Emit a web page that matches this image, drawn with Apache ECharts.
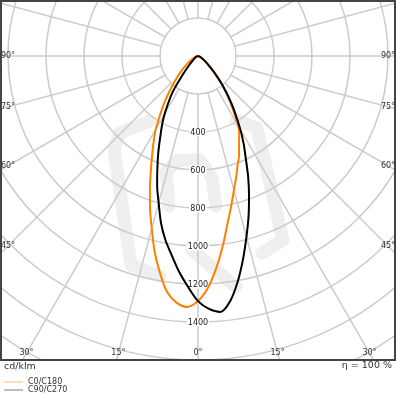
<!DOCTYPE html>
<html><head><meta charset="utf-8">
<script src="https://cdn.jsdelivr.net/npm/echarts@6/dist/echarts.min.js"></script>
<style>html,body{margin:0;padding:0;background:#fff}#c{width:396px;height:396px}</style>
</head><body><div id="c"></div>
<script>
// gamma angles (deg from nadir)
const gammaAngles = [0,2.5,5,7.5,10,12.5,15,17.5,20,22.5,25,27.5,30,35,40,45,50,55,60,65,70,75,80,85,90];
// luminous intensity, cd/klm
const c0Values   = [1290,1220,1117,1005,895,808,730,668,610,565,510,470,420,295,195,120,72,45,28,18,11,6,3,1,0];
const c180Values = [1290,1322,1303,1252,1157,1055,940,840,740,647,570,505,445,320,220,150,100,65,42,28,18,11,6,2,0];
const c90Values  = [1290,1332,1352,1300,1205,1095,985,885,785,690,595,520,445,310,200,115,65,40,24,15,9,5,2,1,0];
const c270Values = [1290,1215,1140,1058,985,900,800,715,625,545,470,410,350,235,115,60,35,22,15,10,6,4,2,1,0];
const radiusTickLabels = [400,600,800,1000,1200,1400];
const angleTickLabels = [90,75,60,45,30,15,0];
const seriesNames = ['C0/C180','C90/C270'];
const unitText = 'cd/klm';
const effText = 'η = 100 %';

function buildCurve(rightVals, leftVals){
  const pts = [];
  for (let i = gammaAngles.length - 1; i >= 0; i--) pts.push([leftVals[i], 360 - gammaAngles[i]]);
  for (let i = 1; i < gammaAngles.length; i++) pts.push([rightVals[i], gammaAngles[i]]);
  return pts;
}

const FONT = 'DejaVu Sans';
const chart = echarts.init(document.getElementById('c'), null, {renderer:'canvas'});
const gridColor = '#cbcbcb';
chart.setOption({
  animation:false,
  backgroundColor:'#ffffff',
  polar:{center:[198,56], radius:380},
  angleAxis:{type:'value', min:0, max:360, startAngle:270, clockwise:false, interval:15,
    axisLine:{show:false}, axisTick:{show:false}, axisLabel:{show:false},
    splitLine:{show:true, lineStyle:{color:gridColor, width:1.5}}},
  radiusAxis:{type:'value', min:0, max:2000, interval:200,
    axisLine:{show:false}, axisTick:{show:false},
    splitLine:{show:true, lineStyle:{color:gridColor, width:1.5}},
    axisLabel:{margin:0, align:'center', verticalAlign:'middle',
      formatter: v => radiusTickLabels.includes(v) ? '{b|' + v + '}' : '',
      rich:{b:{fontSize:8, color:'#222', fontFamily:FONT, backgroundColor:'#ffffff', padding:[1,1,0,1]}}}},
  legend:{orient:'vertical', left:4, top:378, padding:0, itemWidth:19, itemHeight:1.5, itemGap:0, icon:'rect', z:8,
    textStyle:{fontSize:8, color:'#333', fontFamily:FONT, lineHeight:8},
    data:[{name:seriesNames[0], itemStyle:{color:'#fdd3a6'}},{name:seriesNames[1], itemStyle:{color:'#a8a8a8'}}]},
  series:[
    {name:seriesNames[0], type:'line', coordinateSystem:'polar', data:buildCurve(c0Values,c180Values),
     showSymbol:false, smooth:0.3, z:4, lineStyle:{color:'#ff8000', width:2}, itemStyle:{color:'#ff8000'}},
    {name:seriesNames[1], type:'line', coordinateSystem:'polar', data:buildCurve(c90Values,c270Values),
     showSymbol:false, smooth:0.3, z:4, lineStyle:{color:'#000000', width:2}, itemStyle:{color:'#000000'}}
  ]
});

// decorations positioned from the polar coordinate system
const ctr = chart.convertToPixel({polarIndex:0}, [0,0]);
const p200 = chart.convertToPixel({polarIndex:0}, [200,0]);
const rInner = Math.hypot(p200[0]-ctr[0], p200[1]-ctr[1]);
const W = 396, frameBottom = 360;
const els = [];
// faint watermark logo
const wm = '#efefef';
[
  [[150,121],[120,133],[114,150],[131,265],[160,276]],
  [[236,120],[257,128],[283,240],[262,253]],
  [[169,206],[166,172],[178,160],[200,160],[212,178],[216,206]],
  [[192,250],[236,287]]
].forEach(pl => els.push({type:'polyline', z:-5, shape:{points:pl}, style:{stroke:wm, lineWidth:13, fill:null, lineCap:'round', lineJoin:'round'}}));
// inner circle mask
els.push({type:'circle', z:1, shape:{cx:ctr[0], cy:ctr[1], r:rInner-0.8}, style:{fill:'#ffffff'}});
// bottom mask under frame
els.push({type:'rect', z:5, shape:{x:0, y:frameBottom+1, width:W, height:396-frameBottom}, style:{fill:'#ffffff'}});
// frame
els.push({type:'rect', z:6, shape:{x:1, y:1, width:394, height:frameBottom-1}, style:{fill:null, stroke:'#444444', lineWidth:2}});
// angle labels
const box = {x0:8, x1:388, y1:353};
angleTickLabels.forEach(a => {
  [1,-1].forEach(side => {
    if (a === 0 && side === -1) return;
    const ang = side === 1 ? a : 360 - a;
    const p = chart.convertToPixel({polarIndex:0}, [200, ang]);
    const dx = (p[0]-ctr[0])/rInner, dy = (p[1]-ctr[1])/rInner;
    let t = Infinity;
    if (Math.abs(dx) > 1e-6) t = Math.min(t, (dx > 0 ? box.x1 - ctr[0] : ctr[0] - box.x0)/Math.abs(dx));
    if (dy > 1e-6) t = Math.min(t, (box.y1 - ctr[1])/dy);
    els.push({type:'text', z:7, x:ctr[0]+dx*t, y:ctr[1]+dy*t,
      style:{text:a+'°', fontSize:8, fontFamily:FONT, fill:'#333', align:'center', verticalAlign:'middle'}});
  });
});
els.push({type:'text', z:7, x:4, y:367, style:{text:unitText, fontSize:9.5, fontFamily:FONT, fill:'#333', align:'left', verticalAlign:'middle'}});
els.push({type:'text', z:7, x:392, y:366, style:{text:effText, fontSize:9.5, fontFamily:FONT, fill:'#333', align:'right', verticalAlign:'middle'}});
chart.setOption({graphic:{elements:els}});
</script></body></html>
